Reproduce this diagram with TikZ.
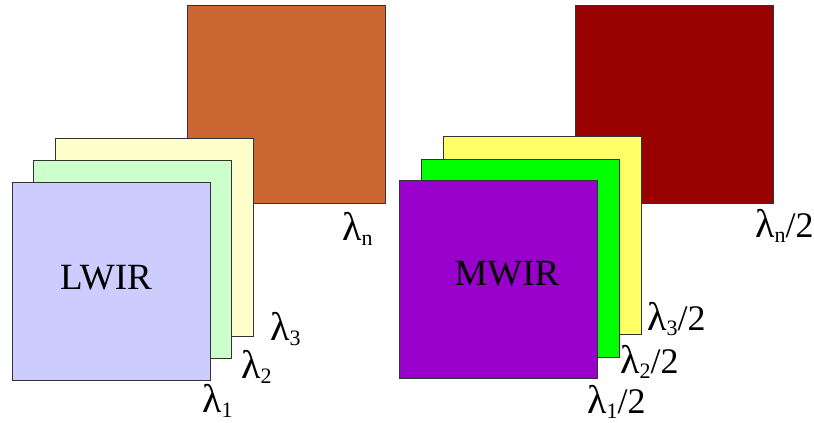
\documentclass[tikz,border=0pt]{standalone}
\usepackage{fontspec}
\setmainfont{Liberation Serif}
\definecolor{corange}{HTML}{CC6633}
\definecolor{cly}{HTML}{FFFFCC}
\definecolor{clg}{HTML}{CCFFCC}
\definecolor{clb}{HTML}{CCCCFF}
\definecolor{cdred}{HTML}{990000}
\definecolor{cyel}{HTML}{FFFF66}
\definecolor{cgrn}{HTML}{00FF00}
\definecolor{cpur}{HTML}{9900CC}
\newcommand{\lsub}[1]{\raisebox{-5pt}{\fontsize{22}{24}\selectfont #1}}
\newcommand{\lam}{{\fontsize{40}{44}\selectfont λ}}
\tikzset{
  sq/.style={draw=black!80, line width=0.8pt, inner sep=0pt, minimum width=198pt, minimum height=198pt},
  bigtxt/.style={font=\fontsize{37}{40}\selectfont, inner sep=0pt},
  lab/.style={font=\fontsize{36}{40}\selectfont, inner sep=0pt, anchor=base west}
}
\begin{document}
\begin{tikzpicture}[x=1pt,y=-1pt]
\useasboundingbox (0,0) rectangle (814,423);
% left group
\node[sq, fill=corange] (o1) at (286,104.5) {};
\node[sq, fill=cly] (a3) at (154.5,237.5) {};
\node[sq, fill=clg] (a2) at (132.5,259.5) {};
\node[sq, fill=clb] (a1) at (111,281) {};
\node[bigtxt] (lw) at (106,277.5) {LWIR};
\node[lab] (l1) at (202,412) {\lam\lsub{1}};
\node[lab] (l2) at (241,378) {\lam\lsub{2}};
\node[lab] (l3) at (270,340) {\lam\lsub{3}};
\node[lab] (ln) at (342,240) {\lam\lsub{n}};
% right group
\node[sq, fill=cdred] (o2) at (674,104) {};
\node[sq, fill=cyel] (b3) at (542,235.5) {};
\node[sq, fill=cgrn] (b2) at (520.5,258) {};
\node[sq, fill=cpur] (b1) at (498.5,279.5) {};
\node[bigtxt] (mw) at (507,273.5) {MWIR};
\node[lab] (m1) at (587,413) {\lam\lsub{1}/2};
\node[lab] (m2) at (620,373) {\lam\lsub{2}/2};
\node[lab] (m3) at (647,330) {\lam\lsub{3}/2};
\node[lab] (mn) at (755,237) {\lam\lsub{n}/2};
\end{tikzpicture}
\end{document}
